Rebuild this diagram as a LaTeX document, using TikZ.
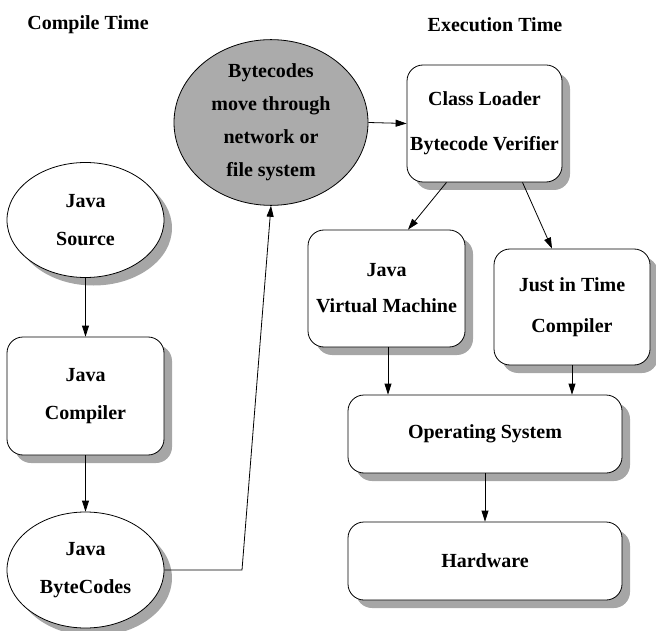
\documentclass[tikz,border=0pt]{standalone}
\usepackage{fontspec}
\setmainfont{Liberation Serif}
\usetikzlibrary{arrows.meta,shadows,shapes.geometric}
\tikzset{
  lbl/.style={font=\fontsize{20}{38}\selectfont\bfseries, align=center, inner sep=0pt},
  shad/.style={drop shadow={shadow xshift=8pt, shadow yshift=-8pt, fill=black!35, opacity=1}},
  rbox/.style={lbl, draw=black, line width=0.8pt, fill=white, rectangle, rounded corners=16pt, shad},
  ebox/.style={lbl, draw=black, line width=0.8pt, fill=white, ellipse, shad},
  arr/.style={-{Triangle[length=11pt,width=7pt]}, line width=0.8pt, black},
}
\begin{document}
\begin{tikzpicture}[x=1pt,y=-1pt]
\useasboundingbox (0,0) rectangle (656,631);
\node[lbl] (ct) at (88,25) {Compile Time};
\node[lbl] (et) at (495,25) {Execution Time};

\node[ebox, minimum width=157pt, minimum height=115pt] (src) at (85.5,220) {Java\\Source};
\node[rbox, minimum width=157pt, minimum height=118pt] (comp) at (85.5,396) {Java\\Compiler};
\node[ebox, minimum width=157pt, minimum height=116pt] (bc) at (85.5,570) {Java\\ByteCodes};

\node[lbl, draw=black, line width=0.8pt, fill=black!33, ellipse, minimum width=194pt, minimum height=135pt, font=\fontsize{20}{33}\selectfont\bfseries] (net) at (271,122.5) {Bytecodes\\move through\\network or\\file system};

\node[rbox, minimum width=155pt, minimum height=117pt, font=\fontsize{20}{45}\selectfont\bfseries] (cl) at (484.5,123.5) {Class Loader\\Bytecode Verifier};
\node[rbox, minimum width=157pt, minimum height=117pt, font=\fontsize{20}{36}\selectfont\bfseries] (jvm) at (386.5,288.5) {Java\\Virtual Machine};
\node[rbox, minimum width=156pt, minimum height=116pt, font=\fontsize{20}{41}\selectfont\bfseries] (jit) at (572,307) {Just in Time\\Compiler};
\node[rbox, minimum width=274pt, minimum height=78pt] (os) at (485,434) {Operating System};
\node[rbox, minimum width=274pt, minimum height=78pt] (hw) at (485,561) {Hardware};

\coordinate (bend) at (242,570);
\draw[arr] (src.south) -- (comp.north);
\draw[arr] (comp.south) -- (bc.north);
\draw[arr] (bc.east) -- (bend) -- (net.south);
\draw[arr] (net.east) -- (cl.west);
\draw[arr] ([xshift=-38pt]cl.south) -- ([xshift=21.5pt]jvm.north);
\draw[arr] ([xshift=38pt]cl.south) -- ([xshift=-20pt]jit.north);
\draw[arr] ([xshift=1.5pt]jvm.south) -- ([xshift=-97pt]os.north);
\draw[arr] (jit.south) -- ([xshift=87pt]os.north);
\draw[arr] (os.south) -- (hw.north);
\end{tikzpicture}
\end{document}
